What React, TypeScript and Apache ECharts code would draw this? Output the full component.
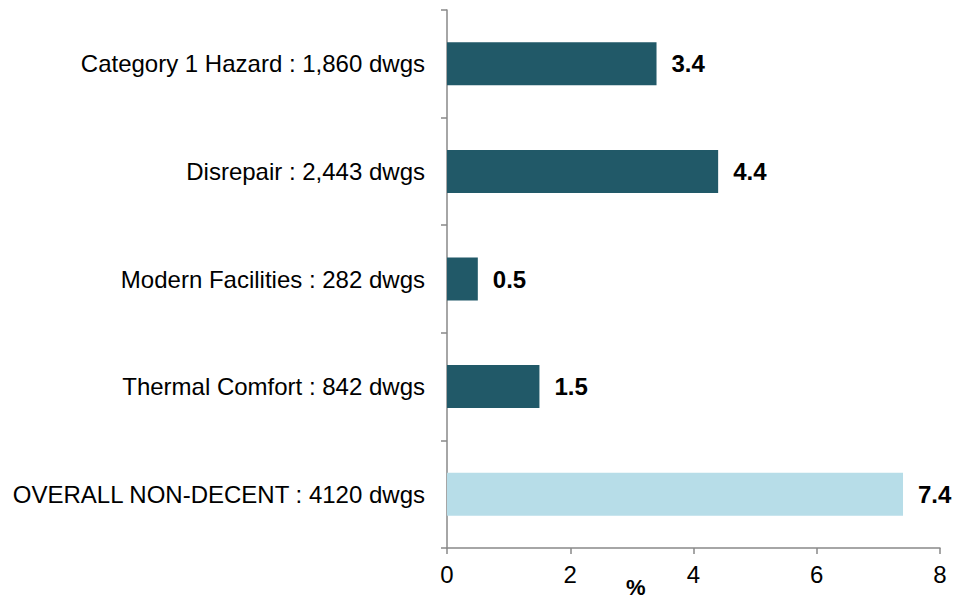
import React, { useEffect, useRef } from "react";
import * as echarts from "echarts";

const categories = [
  "Category 1 Hazard : 1,860 dwgs",
  "Disrepair : 2,443 dwgs",
  "Modern Facilities : 282 dwgs",
  "Thermal Comfort : 842 dwgs",
  "OVERALL NON-DECENT : 4120 dwgs",
];
const values = [3.4, 4.4, 0.5, 1.5, 7.4];
const barColors = ["#215968", "#215968", "#215968", "#215968", "#B7DDE8"];
const xTicks = [0, 2, 4, 6, 8];

const FONT = "Liberation Sans, Arial, sans-serif";

export default function App() {
  const ref = useRef<HTMLDivElement>(null);
  useEffect(() => {
    if (!ref.current) return;
    const chart = echarts.init(ref.current, undefined, { renderer: "svg" });
    chart.setOption({
      animation: false,
      grid: { left: 447, right: 20, top: 10, bottom: 51, containLabel: false },
      xAxis: {
        type: "value",
        min: xTicks[0],
        max: xTicks[xTicks.length - 1],
        interval: 2,
        splitLine: { show: false },
        axisLine: { show: true, lineStyle: { color: "#898989", width: 1.5 } },
        axisTick: { show: true, length: 6, lineStyle: { color: "#898989", width: 1.5 } },
        axisLabel: {
          color: "#000",
          fontSize: 24,
          fontFamily: FONT,
          margin: 14,
        },
      },
      yAxis: {
        type: "category",
        data: categories,
        inverse: true,
        axisLine: { show: true, lineStyle: { color: "#898989", width: 1.5 } },
        axisTick: { show: true, length: 6, lineStyle: { color: "#898989", width: 1.5 } },
        axisLabel: {
          color: "#000",
          fontSize: 24,
          fontFamily: FONT,
          margin: 22,
        },
      },
      series: [
        {
          type: "bar",
          data: values.map((v, i) => ({ value: v, itemStyle: { color: barColors[i] } })),
          barWidth: "40%",
          label: {
            show: true,
            position: "right",
            distance: 15,
            color: "#000",
            fontSize: 24,
            fontWeight: "bold",
            fontFamily: FONT,
            formatter: (p: any) => p.value.toFixed(1),
          },
        },
      ],
      graphic: [
        {
          type: "text",
          left: 626,
          top: 576,
          style: {
            text: "%",
            fill: "#000",
            fontSize: 22,
            fontWeight: "bold",
            fontFamily: FONT,
          },
        },
      ],
    });
    return () => chart.dispose();
  }, []);
  return <div ref={ref} style={{ width: 960, height: 599, position: "absolute", left: 0, top: 0 }} />;
}
